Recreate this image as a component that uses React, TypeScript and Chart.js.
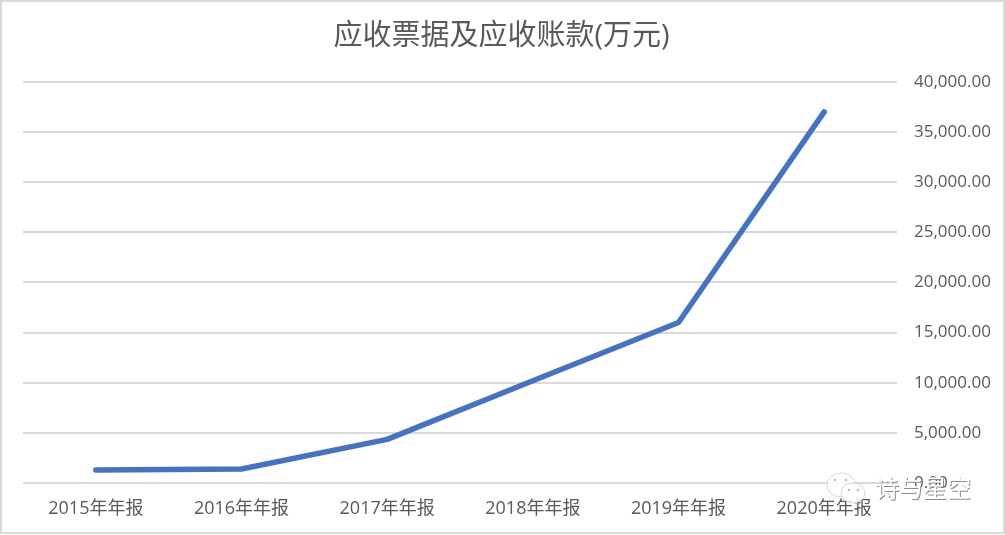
import React, { useEffect, useRef } from "react";
import { Chart, registerables } from "chart.js";

Chart.register(...registerables);

const categories = ["2015年年报", "2016年年报", "2017年年报", "2018年年报", "2019年年报", "2020年年报"];
const receivables = [1300, 1400, 4350, 10200, 16000, 37000];
const titleText = "应收票据及应收账款(万元)";
const watermarkText = "诗与星空";
const FONT = '"Open Sans", "Noto Sans CJK SC", sans-serif';

const framePlugin = {
  id: "frame",
  afterLayout(chart: any) {
    // centre the title on the whole frame rather than on the padded layout area
    if (chart.titleBlock) {
      chart.titleBlock.left = 0;
      chart.titleBlock.right = 1003;
    }
  },
  beforeDraw(chart: any) {
    const { ctx, width, height } = chart;
    ctx.save();
    ctx.fillStyle = "#ffffff";
    ctx.fillRect(0, 0, width, height);
    ctx.strokeStyle = "#d9d9d9";
    ctx.lineWidth = 2;
    ctx.strokeRect(1, 1, width - 2, height - 3);
    ctx.restore();
  },
};

const watermarkPlugin = {
  id: "watermark",
  afterDraw(chart: any) {
    const { ctx } = chart;
    ctx.save();
    const bubble = (x: number, y: number, rx: number, ry: number) => {
      ctx.beginPath();
      ctx.ellipse(x, y, rx, ry, 0, 0, Math.PI * 2);
      ctx.fillStyle = "rgba(255,255,255,0.85)";
      ctx.fill();
      ctx.strokeStyle = "#d8d8d8";
      ctx.lineWidth = 1;
      ctx.stroke();
    };
    bubble(841, 485, 14, 12);
    bubble(853, 493, 12, 10);
    ctx.fillStyle = "#bdbdbd";
    [[835, 480], [846, 480], [849, 490], [858, 490]].forEach(([x, y]) => {
      ctx.beginPath();
      ctx.arc(x, y, 1.3, 0, Math.PI * 2);
      ctx.fill();
    });
    ctx.font = `24px ${FONT}`;
    ctx.textBaseline = "middle";
    ctx.textAlign = "left";
    ctx.fillStyle = "#8c8c8c";
    ctx.fillText(watermarkText, 876, 491);
    ctx.fillStyle = "#ffffff";
    ctx.fillText(watermarkText, 875, 490);
    ctx.restore();
  },
};

export default function App() {
  const ref = useRef<HTMLCanvasElement>(null);
  useEffect(() => {
    const chart = new Chart(ref.current!, {
      type: "line",
      data: {
        labels: categories,
        datasets: [
          {
            data: receivables,
            borderColor: "#4472c4",
            borderWidth: 5.5,
            borderCapStyle: "round",
            borderJoinStyle: "round",
            pointRadius: 0,
            tension: 0,
            fill: false,
          },
        ],
      },
      options: {
        responsive: false,
        animation: false,
        layout: { padding: { left: 23, right: 0, top: 0, bottom: 0 } },
        plugins: {
          legend: { display: false },
          tooltip: { enabled: false },
          title: {
            display: true,
            text: titleText,
            color: "#595959",
            font: { family: FONT, size: 29, weight: "normal" },
            padding: { top: 19, bottom: 28 },
          },
        },
        scales: {
          x: {
            offset: true,
            grid: { display: false, offset: true },
            border: { display: false },
            ticks: {
              color: "#595959",
              font: { family: FONT, size: 18 },
              maxRotation: 0,
              autoSkip: false,
              padding: 7,
            },
            afterFit(scale: any) {
              scale.height = 535 - 483;
            },
          },
          y: {
            position: "right",
            min: 0,
            max: 40000,
            grid: { color: "#d9d9d9", lineWidth: 2, drawTicks: false },
            border: { display: false },
            ticks: {
              stepSize: 5000,
              color: "#595959",
              padding: 17,
              font: { family: FONT, size: 17 },
              callback: (v: any) =>
                Number(v).toLocaleString("en-US", { minimumFractionDigits: 2, maximumFractionDigits: 2 }),
            },
            afterFit(scale: any) {
              scale.width = 1005 - 897;
            },
          },
        },
      },
      plugins: [framePlugin, watermarkPlugin],
    } as any);
    return () => chart.destroy();
  }, []);
  return (
    <div style={{ position: "fixed", left: 0, top: 0, width: 1005, height: 535 }}>
      <canvas ref={ref} width={1005} height={535} style={{ display: "block" }} />
    </div>
  );
}
